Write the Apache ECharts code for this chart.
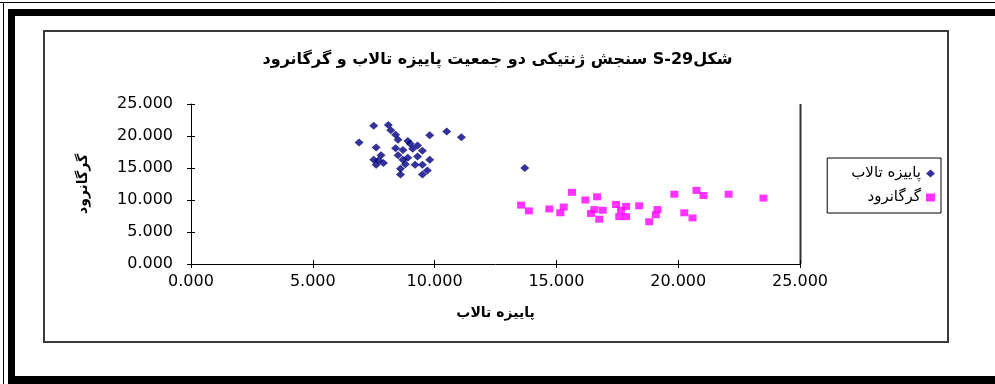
<!DOCTYPE html>
<html>
<head>
<meta charset="utf-8">
<script src="https://cdn.jsdelivr.net/npm/echarts@6/dist/echarts.min.js"></script>
<style>
html,body{margin:0;padding:0;background:#fff;}
#c{width:995px;height:384px;}
</style>
</head>
<body>
<div id="c"></div>
<script>
// ---- data ----
var seriesNames = ['پاییزه تالاب', 'گرگانرود'];
var titleText = 'شکلS-29 سنجش ژنتیکی دو جمعیت پاییزه تالاب و گرگانرود';
var xAxisTitle = 'پاییزه تالاب';
var yAxisTitle = 'گرگانرود';
var axisMin = 0, axisMax = 25, axisStep = 5;

var payizehTalab = [
  [6.9,19.0],[7.5,21.6],[8.1,21.7],[8.2,20.9],[8.4,20.2],[8.5,19.4],[8.4,18.1],
  [8.7,17.8],[9.0,18.8],[9.1,18.0],[9.3,18.5],[9.5,17.7],[8.5,17.0],[8.7,16.3],
  [8.9,16.6],[9.3,16.8],[9.8,16.3],[7.5,16.3],[7.6,15.5],[7.8,17.0],[7.9,15.8],
  [7.7,16.2],[8.6,14.9],[8.8,15.6],[9.2,15.5],[9.5,15.5],[9.7,14.6],[9.5,14.0],
  [8.6,14.0],[9.8,20.1],[10.5,20.7],[11.1,19.8],[13.7,15.0],[7.6,18.2],[8.9,19.2]
];
var gorganrud = [
  [13.55,9.2],[13.87,8.3],[14.71,8.6],[15.16,8.0],[15.3,8.9],[15.64,11.2],
  [16.19,10.0],[16.67,10.5],[16.42,7.9],[16.76,7.0],[16.56,8.5],[16.9,8.4],
  [17.45,9.3],[17.65,8.4],[17.58,7.4],[17.86,9.0],[17.86,7.4],[18.4,9.1],
  [19.15,8.5],[19.08,7.7],[18.81,6.6],[19.84,10.9],[20.25,8.0],[20.59,7.2],
  [20.75,11.5],[21.04,10.7],[22.07,10.9],[23.5,10.3]
];

// ---- chart ----
// Right-to-left Persian layout: each word is its own rich-text token, placed
// in visual (left-to-right) order = reversed reading order.
function richRTL(text){
  return text.split(' ').reverse().map(function(w){
    var m = w.match(/^([^A-Za-z0-9\-]+)([A-Za-z0-9\-]+)$/);
    if (m) return '{w|' + m[2] + '}{w|' + m[1] + '}';
    return '{w|' + w + '}';
  }).join(' ');
}

var FONT = '"DejaVu Sans", "Liberation Sans", sans-serif';
var chart = echarts.init(document.getElementById('c'), null, {renderer:'canvas'});

function fmt(v){ return v.toFixed(3); }
function tstyle(size, weight){
  return {fontFamily:FONT, fontSize:size, fontWeight:weight, color:'#000'};
}
function baseAxis(extra){
  var a = {
    type:'value', min:axisMin, max:axisMax, interval:axisStep,
    splitLine:{show:false},
    axisLine:{show:true, onZero:false, lineStyle:{color:'#000', width:1}},
    axisTick:{show:true, length:4, lineStyle:{color:'#000'}},
    axisLabel:{color:'#000', fontFamily:FONT, fontSize:16, formatter:fmt}
  };
  for (var k in extra) a[k] = extra[k];
  return a;
}

var titleStyle = tstyle(16, 'bold');
titleStyle.rich = {w: tstyle(16, 'bold')};
var legendStyle = tstyle(15, 'normal');
legendStyle.rich = {w: tstyle(15, 'normal')};
var xNameStyle = tstyle(14, 'bold');
xNameStyle.rich = {w: tstyle(14, 'bold')};

var option = {
  backgroundColor:'#fff',
  animation:false,
  title:{
    text: richRTL(titleText),
    left:'center', top:47,
    textStyle: titleStyle
  },
  grid:{left:191, right:195, top:104, bottom:120, containLabel:false},
  legend:{
    orient:'vertical', right:54, top:158,
    align:'right',
    data:[
      {name:seriesNames[0], icon:'diamond'},
      {name:seriesNames[1], icon:'rect'}
    ],
    itemWidth:9, itemHeight:8, itemGap:9,
    borderColor:'#000', borderWidth:1,
    padding:[8,6,8,24],
    formatter:function(n){ return richRTL(n); },
    textStyle: legendStyle
  },
  xAxis:[
    baseAxis({
      name: richRTL(xAxisTitle), nameLocation:'middle', nameGap:42,
      nameTextStyle: xNameStyle,
      axisLabel:{color:'#000', fontFamily:FONT, fontSize:16, margin:10, formatter:fmt}
    }),
    baseAxis({position:'bottom', axisLine:{show:false}, axisLabel:{show:false},
      axisTick:{show:true, inside:true, length:4, lineStyle:{color:'#000'}}})
  ],
  yAxis:[
    baseAxis({
      name: yAxisTitle, nameLocation:'middle', nameGap:101, nameRotate:90,
      nameTextStyle: tstyle(14, 'bold'),
      axisLabel:{color:'#000', fontFamily:FONT, fontSize:16, margin:18, formatter:fmt}
    }),
    baseAxis({position:'left', axisLine:{show:false}, axisLabel:{show:false},
      axisTick:{show:true, inside:true, length:4, lineStyle:{color:'#000'}}})
  ],
  series:[
    {name:seriesNames[0], type:'scatter', xAxisIndex:0, yAxisIndex:0,
     symbol:'diamond', symbolSize:[9,8], data:payizehTalab,
     itemStyle:{color:'#000080'}},
    {name:seriesNames[1], type:'scatter', xAxisIndex:0, yAxisIndex:0,
     symbol:'rect', symbolSize:[8,7], data:gorganrud,
     itemStyle:{color:'#FF00FF'}}
  ],
  graphic:[
    {type:'line', shape:{x1:0,y1:2.5,x2:995,y2:2.5}, style:{stroke:'#000', lineWidth:1}},
    {type:'line', shape:{x1:3.5,y1:2,x2:3.5,y2:384}, style:{stroke:'#000', lineWidth:1}},
    {type:'rect', shape:{x:8,y:9,width:987,height:7}, style:{fill:'#000'}},
    {type:'rect', shape:{x:8,y:9,width:7,height:375}, style:{fill:'#000'}},
    {type:'rect', shape:{x:8,y:376,width:987,height:8}, style:{fill:'#000'}},
    {type:'rect', shape:{x:44,y:31,width:904,height:311},
     style:{fill:null, stroke:'#3a3a3a', lineWidth:2}},
    {type:'line', shape:{x1:800.5,y1:104,x2:800.5,y2:264}, style:{stroke:'#333', lineWidth:2}}
  ]
};
chart.setOption(option);
</script>
</body>
</html>
